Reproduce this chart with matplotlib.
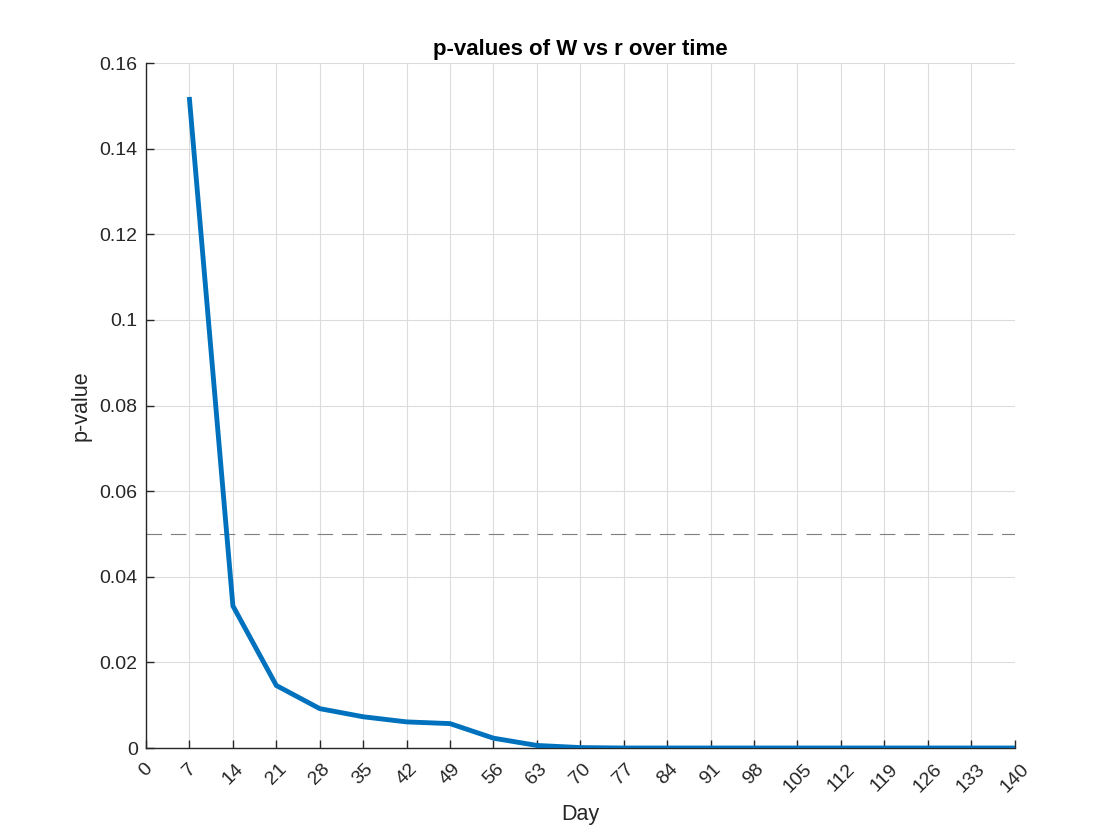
import matplotlib
matplotlib.use("Agg")
import matplotlib.pyplot as plt

days = [7, 14, 21, 28, 35, 42, 49, 56, 63, 70, 77, 84, 91, 98, 105, 112, 119, 126, 133, 140]
pvals = [0.1515, 0.0332, 0.0146, 0.0092, 0.0073, 0.0061, 0.0057, 0.0023, 0.0006, 0.0001,
         0.0, 0.0, 0.0, 0.0, 0.0, 0.0, 0.0, 0.0, 0.0, 0.0]
xticks = list(range(0, 141, 7))
yticks = [0, 0.02, 0.04, 0.06, 0.08, 0.1, 0.12, 0.14, 0.16]
ytick_labels = ["0", "0.02", "0.04", "0.06", "0.08", "0.1", "0.12", "0.14", "0.16"]
threshold = 0.05

plt.rcParams['font.family'] = ['Liberation Sans', 'DejaVu Sans']

fig = plt.figure(figsize=(11.2, 8.4), dpi=100)
ax = fig.add_axes([0.1304, 0.1095, 0.7755, 0.8155])

ax.plot(days, pvals, color='#0072BD', linewidth=3.5, solid_joinstyle='miter', zorder=3)
ax.axhline(threshold, color='#7f7f7f', linewidth=0.8, linestyle=(0, (14, 8)), zorder=2)

ax.set_xlim(0, 140)
ax.set_ylim(0, 0.16)
ax.set_xticks(xticks)
ax.set_xticklabels([str(t) for t in xticks], rotation=45, ha='center', va='top',
                   fontsize=14, color='#262626')
ax.set_yticks(yticks)
ax.set_yticklabels(ytick_labels, fontsize=14, color='#262626')
ax.tick_params(direction='in', length=6, width=1, colors='#262626')
ax.tick_params(axis='y', pad=6)
ax.tick_params(axis='x', pad=9)

ax.grid(True, color='#dcdcdc', linewidth=0.8)
ax.set_axisbelow(True)
for s in ['top', 'right']:
    ax.spines[s].set_visible(False)
for s in ['left', 'bottom']:
    ax.spines[s].set_color('#262626')
    ax.spines[s].set_linewidth(1)

ax.set_title('p-values of W vs r over time', fontsize=16, fontweight='bold', pad=6)
ax.set_xlabel('Day', fontsize=15.5, color='#262626', labelpad=6)
ax.set_ylabel('p-value', fontsize=15.5, color='#262626', labelpad=6)

fig.savefig('out.png', dpi=100, facecolor='white')
